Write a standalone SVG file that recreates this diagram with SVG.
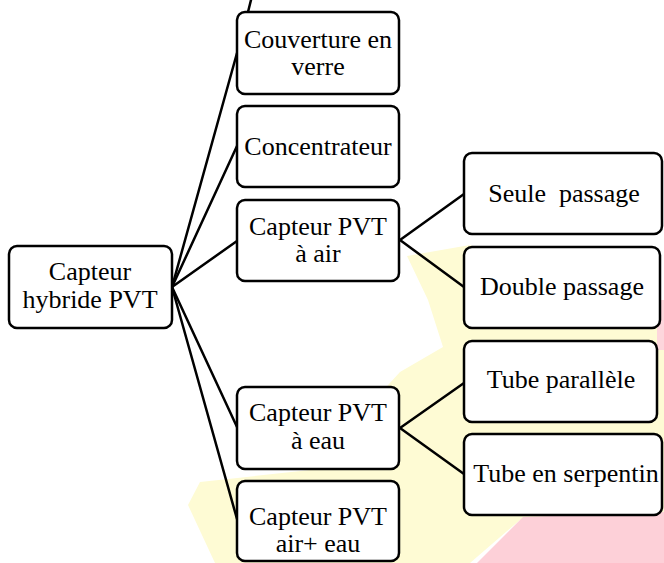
<svg xmlns="http://www.w3.org/2000/svg" width="664" height="563" viewBox="0 0 664 563">
<style>
.box{fill:#fff;stroke:#000;stroke-width:2.5}
.t{font-family:"Liberation Serif","Times New Roman",serif;font-size:26px;fill:#000;text-anchor:middle}
.c{stroke:#000;stroke-width:2.5;fill:none;stroke-linecap:round}
</style>
<rect width="664" height="563" fill="#fff"/>
<g id="background">
<path d="M407,256 L470,245 L664,320 L664,515 L520,520 L470,563 L215,563 L188,505 L200,482 L310,470 L400,372 L443,347 L428,300 Z" fill="#fefbd4"/>
<path d="M477,563 L523,517 L664,512 L664,563 Z" fill="#fdd0d8"/>
<path d="M657,300 L664,300 L664,350 L657,350 Z" fill="#fdd6dc"/>
</g>
<g id="connectors">
<line class="c" x1="172" y1="287" x2="237" y2="53"/>
<line class="c" x1="248" y1="12" x2="251" y2="0"/>
<line class="c" x1="172" y1="287" x2="237" y2="146"/>
<line class="c" x1="172" y1="287" x2="237" y2="241"/>
<line class="c" x1="172" y1="287" x2="237" y2="427"/>
<line class="c" x1="172" y1="287" x2="237" y2="519"/>
<line class="c" x1="400" y1="240" x2="464" y2="194"/>
<line class="c" x1="400" y1="240" x2="464" y2="287"/>
<line class="c" x1="400" y1="428" x2="464" y2="383"/>
<line class="c" x1="400" y1="428" x2="464" y2="474"/>
</g>
<g id="root">
<rect class="box" x="9" y="246" width="163" height="82" rx="8"/>
<text class="t" x="90" y="280">Capteur</text>
<text class="t" x="90" y="308">hybride PVT</text>
</g>
<g id="couverture">
<rect class="box" x="237" y="12" width="162" height="82" rx="8"/>
<text class="t" x="318" y="48">Couverture en</text>
<text class="t" x="318" y="75">verre</text>
</g>
<g id="concentrateur">
<rect class="box" x="237" y="106" width="162" height="81" rx="8"/>
<text class="t" x="318" y="155">Concentrateur</text>
</g>
<g id="pvt-air">
<rect class="box" x="237" y="200" width="162" height="81" rx="8"/>
<text class="t" x="318" y="235">Capteur PVT</text>
<text class="t" x="318" y="262">à air</text>
</g>
<g id="pvt-eau">
<rect class="box" x="237" y="387" width="162" height="82" rx="8"/>
<text class="t" x="318" y="421">Capteur PVT</text>
<text class="t" x="318" y="449">à eau</text>
</g>
<g id="pvt-air-eau">
<rect class="box" x="237" y="481" width="162" height="80" rx="8"/>
<text class="t" x="318" y="525">Capteur PVT</text>
<text class="t" x="318" y="552">air+ eau</text>
</g>
<g id="seule">
<rect class="box" x="464" y="153" width="198" height="81" rx="8"/>
<text class="t" x="564" y="202" xml:space="preserve">Seule  passage</text>
</g>
<g id="double">
<rect class="box" x="464" y="247" width="196" height="81" rx="8"/>
<text class="t" x="562" y="295">Double passage</text>
</g>
<g id="tube-parallele">
<rect class="box" x="464" y="341" width="193" height="81" rx="8"/>
<text class="t" x="561" y="388">Tube parallèle</text>
</g>
<g id="tube-serpentin">
<rect class="box" x="464" y="434" width="198" height="81" rx="8"/>
<text class="t" x="566" y="482">Tube en serpentin</text>
</g>
</svg>
